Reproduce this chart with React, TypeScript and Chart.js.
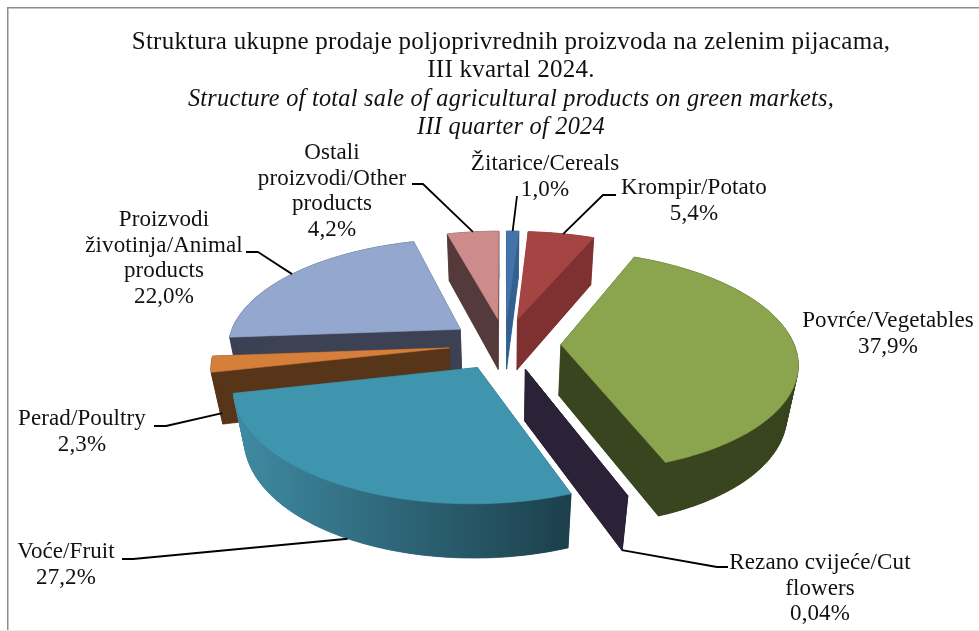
import React, { useEffect, useRef } from "react";
import { Chart, registerables } from "chart.js";

Chart.register(...registerables);

const categories = ["Žitarice/Cereals", "Krompir/Potato", "Povrće/Vegetables", "Rezano cvijeće/Cut flowers", "Voće/Fruit", "Perad/Poultry", "Proizvodi životinja/Animal products", "Ostali proizvodi/Other products"];
const shares = [1.0, 5.4, 37.9, 0.04, 27.2, 2.3, 22.0, 4.2];
const valueLabels = ["1,0%", "5,4%", "37,9%", "0,04%", "27,2%", "2,3%", "22,0%", "4,2%"];
const topColors = ["#4473aa", "#a54543", "#8aa54e", "#2c2238", "#4095ae", "#d67f3a", "#93a7cf", "#cd8b8b"];
const wallColors = ["#33608e", "#7e3130", "#39451f", "#2c2238", "#1c3f4b", "#573519", "#3c4254", "#553a3c"];
const labelLines = [
  ["Žitarice/Cereals"],
  ["Krompir/Potato"],
  ["Povrće/Vegetables"],
  ["Rezano cvijeće/Cut", "flowers"],
  ["Voće/Fruit"],
  ["Perad/Poultry"],
  ["Proizvodi", "životinja/Animal", "products"],
  ["Ostali", "proizvodi/Other", "products"],
];
const titleLines = ["Struktura ukupne prodaje poljoprivrednih proizvoda na zelenim pijacama,", "III kvartal 2024."];
const subtitleLines = ["Structure of total sale of agricultural products on green markets,", "III quarter of 2024"];

const SERIF = "'Liberation Serif', serif";
const LABEL_FONT = `23px ${SERIF}`;
const LABEL_LH = 25.5;
// label centre x, first-line centre y, leader start/elbow x,y, leader depth on the slice wall
const labelLayout = [
  { x: 545, y: 164, line: [[517, 196]], z: 0 },
  { x: 694, y: 188, line: [[616, 195], [603, 195]], z: 0 },
  { x: 888, y: 321, line: null, z: 0 },
  { x: 820, y: 563, line: [[728, 567], [717, 567]], z: 1 },
  { x: 66, y: 552, line: [[122, 559], [133, 559]], z: 1 },
  { x: 82, y: 419, line: [[154, 426], [166, 426]], z: 0.95 },
  { x: 164, y: 220, line: [[246, 252], [258, 252]], z: 0 },
  { x: 332, y: 153, line: [[412, 184], [423, 184]], z: 0 },
];

// perspective of the tilted pie plane
const VIEW = { shiftX: -6, A: 233, B: 108, D: 53, p: 0.15, q: 0.04 };

const project = (cx: number, cy: number, u: number, v: number, z: number) => {
  const w = 1 - VIEW.p * v + VIEW.q * z;
  return { x: cx + (VIEW.A * u) / w, y: cy + (VIEW.B * v + VIEW.D * z) / w };
};

const pie3d = {
  id: "pie3d",
  beforeDraw(chart: any) {
    const { ctx, width, height } = chart;
    ctx.save();
    ctx.fillStyle = "#ffffff";
    ctx.fillRect(0, 0, width, height);
    ctx.fillStyle = "#8c8c8c";
    ctx.fillRect(7, 7, width - 7, 1.5);
    ctx.fillRect(7, 7, 1.5, height - 7);
    ctx.fillStyle = "#ececec";
    ctx.fillRect(0, height - 1, width, 1);
    ctx.restore();
    ctx.letterSpacing = "0.26px";
  },
  beforeDatasetDraw(chart: any, args: any) {
    const { ctx } = chart;
    const arcs: any[] = args.meta.data;
    const geo = arcs.map((el: any, i: number) => {
      const { x, y, startAngle, endAngle, outerRadius } = el.getProps(["x", "y", "startAngle", "endAngle", "outerRadius"]);
      const cx = x + VIEW.shiftX;
      const mid = (startAngle + endAngle) / 2;
      const d = el.options.offset / outerRadius;
      const ox = d * Math.cos(mid);
      const oy = d * Math.sin(mid);
      const steps = Math.max(2, Math.ceil((endAngle - startAngle) / 0.02));
      const rim: number[][] = [];
      for (let k = 0; k <= steps; k++) {
        const a = startAngle + ((endAngle - startAngle) * k) / steps;
        rim.push([ox + Math.cos(a), oy + Math.sin(a)]);
      }
      const at = (z: number, pt: number[]) => project(cx, y, pt[0], pt[1], z);
      return { i, cx, cy: y, mid, ox, oy, rim, at };
    });
    const order = [...geo].sort((a, b) => Math.sin(a.mid) - Math.sin(b.mid));
    const trace = (pts: { x: number; y: number }[]) => {
      ctx.beginPath();
      pts.forEach((p, n) => (n ? ctx.lineTo(p.x, p.y) : ctx.moveTo(p.x, p.y)));
      ctx.closePath();
    };
    ctx.save();
    ctx.lineJoin = "round";
    order.forEach((g) => {
      const tip = [g.ox, g.oy];
      const top = [tip, ...g.rim].map((p) => g.at(0, p));
      const bottom = [tip, ...g.rim].map((p) => g.at(1, p));
      let wall: any = wallColors[g.i];
      if (g.i === 4) {
        const xs = top.map((p) => p.x);
        const grad = ctx.createLinearGradient(Math.min(...xs), 0, Math.max(...xs), 0);
        grad.addColorStop(0, "#3f8ba3");
        grad.addColorStop(1, "#1c3f4b");
        wall = grad;
      }
      ctx.fillStyle = wall;
      ctx.strokeStyle = wall;
      ctx.lineWidth = 0.6;
      // side faces and bottom, back to front
      const n = top.length;
      trace(bottom);
      ctx.fill();
      for (let k = 0; k < n; k++) {
        const k2 = (k + 1) % n;
        trace([top[k], top[k2], bottom[k2], bottom[k]]);
        ctx.fill();
        ctx.stroke();
      }
      ctx.fillStyle = topColors[g.i];
      ctx.strokeStyle = topColors[g.i];
      trace(top);
      ctx.fill();
      ctx.stroke();
    });
    // leaders and data labels
    ctx.font = LABEL_FONT;
    ctx.letterSpacing = "0.1px";
    ctx.textAlign = "center";
    ctx.textBaseline = "middle";
    geo.forEach((g) => {
      const lay = labelLayout[g.i];
      const lines = [...labelLines[g.i], valueLabels[g.i]];
      ctx.fillStyle = "#111111";
      lines.forEach((t, n) => ctx.fillText(t, lay.x, lay.y + n * LABEL_LH));
      if (lay.line) {
        const end = g.at(lay.z, g.rim[Math.floor(g.rim.length / 2)]);
        ctx.strokeStyle = "#000000";
        ctx.lineWidth = 1.8;
        ctx.beginPath();
        lay.line.forEach((p, n) => (n ? ctx.lineTo(p[0], p[1]) : ctx.moveTo(p[0], p[1])));
        ctx.lineTo(end.x, end.y);
        ctx.stroke();
      }
    });
    ctx.restore();
    return false;
  },
};

export default function App() {
  const ref = useRef<HTMLCanvasElement>(null);
  useEffect(() => {
    document.body.style.margin = "0";
    const chart = new Chart(ref.current as HTMLCanvasElement, {
      type: "pie",
      data: {
        labels: categories,
        datasets: [{ data: shares, backgroundColor: topColors, borderWidth: 0, offset: 48, radius: 200 } as any],
      },
      options: {
        responsive: false,
        animation: false,
        layout: { padding: { left: 43, bottom: 85, top: 0, right: 0 } },
        plugins: {
          legend: { display: false },
          tooltip: { enabled: false },
          title: {
            display: true,
            text: titleLines,
            color: "#111111",
            font: { family: SERIF, size: 25, weight: "normal", lineHeight: 1.14 },
            padding: { top: 28, bottom: 0 },
          },
          subtitle: {
            display: true,
            text: subtitleLines,
            color: "#111111",
            font: { family: SERIF, size: 24.3, style: "italic", weight: "normal", lineHeight: 1.173 },
            padding: { top: 0, bottom: 0 },
          },
        },
      } as any,
      plugins: [pie3d as any],
    });
    return () => chart.destroy();
  }, []);
  return (
    <div style={{ position: "absolute", left: 0, top: 0, width: 979, height: 631, background: "#fff" }}>
      <canvas ref={ref} width={979} height={631} style={{ display: "block" }} />
    </div>
  );
}
